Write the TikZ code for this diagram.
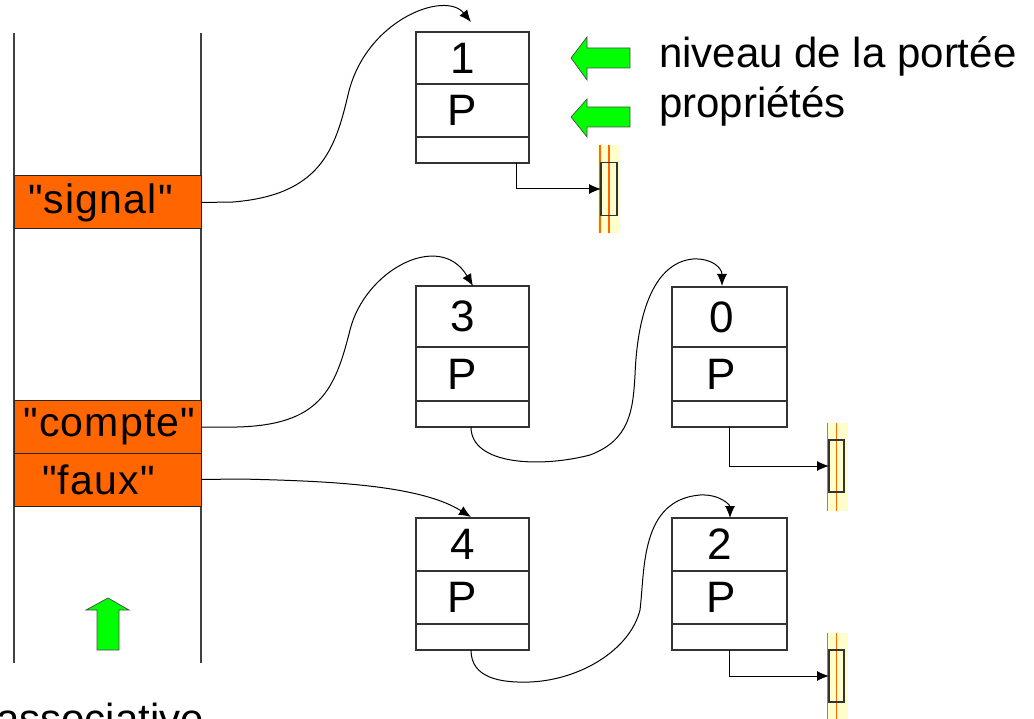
\documentclass[tikz,border=0pt]{standalone}
\usepackage{fontspec}
\setmainfont{Liberation Sans}
\newfontfamily\keyfont{Liberation Sans}[Ligatures=TeXOff,LetterSpace=3]
\usetikzlibrary{arrows.meta,calc}
\definecolor{orng}{HTML}{FF6600}
\definecolor{grn}{HTML}{00FF00}
\definecolor{pale}{HTML}{FFFFCC}
\definecolor{edge}{HTML}{333333}
\begin{document}
\begin{tikzpicture}[x=1pt,y=-1pt,
  row/.style={draw=edge,line width=1.1pt,rectangle,inner sep=0pt,outer sep=0pt,anchor=north west,minimum width=113pt},
  cell/.style={font=\fontsize{44}{50}\selectfont,inner sep=0pt,xshift=-10pt},
  keybox/.style={draw=black!85,fill=orng,line width=1pt,rectangle,inner sep=0pt,outer sep=0pt,anchor=north west,minimum width=187pt,minimum height=53pt},
  keytxt/.style={font=\keyfont\fontsize{41}{48}\selectfont,inner sep=0pt},
  stack/.style={draw=black!75,line width=1.5pt},
  band/.style={fill=pale,draw=none,rectangle,inner sep=0pt,outer sep=0pt,minimum width=21pt,minimum height=88pt},
  elem/.style={draw=edge,line width=1.1pt,rectangle,inner sep=0pt,outer sep=0pt,minimum width=16pt,minimum height=53pt},
  oline/.style={draw=orng,line width=1.1pt},
  ptr/.style={draw=black,line width=1pt,-{Latex[length=12pt,width=10pt]}},
  link/.style={draw=black,line width=1pt,-{Latex[length=12pt,width=10pt]}},
  garrow/.style={fill=grn,draw=black!70,line width=0.7pt,line join=miter},
  lbl/.style={font=\fontsize{42}{50}\selectfont,inner sep=0pt,anchor=base west}
]
\useasboundingbox (0,0) rectangle (1034,719);
\clip (0,0) rectangle (1034,719);

% stack
\draw[stack] (14,33) -- (14,663);
\draw[stack] (201,33) -- (201,663);
\node[keybox,label={[keytxt,xshift=-7pt]center:"signal"}] (sig) at (14,176) {};
\node[keybox,minimum height=52pt,label={[keytxt,xshift=2pt]center:"compte"}] (cpt) at (14,401) {};
\node[keybox,label={[keytxt,xshift=-9pt]center:"faux"}] (fx) at (14,453) {};

% up arrow
\draw[garrow] (108,598) -- (129,610) -- (119,610) -- (119,650) -- (97,650) -- (97,610) -- (86,610) -- cycle;

% box 1
\node[row,minimum height=52pt,label={[cell]center:1}] (b1a) at (416,32) {};
\node[row,minimum height=53pt,label={[cell]center:P}] (b1b) at (b1a.south west) {};
\node[row,minimum height=26pt] (b1c) at (b1b.south west) {};

% box 3
\node[row,minimum height=61pt,label={[cell]center:3}] (b3a) at (416,286) {};
\node[row,minimum height=54pt,label={[cell]center:P}] (b3b) at (b3a.south west) {};
\node[row,minimum height=26pt] (b3c) at (b3b.south west) {};

% box 0
\node[row,minimum width=115pt,minimum height=60pt,label={[cell,xshift=2pt]center:0}] (b0a) at (672,287) {};
\node[row,minimum width=115pt,minimum height=54pt,label={[cell,xshift=2pt]center:P}] (b0b) at (b0a.south west) {};
\node[row,minimum width=115pt,minimum height=26pt] (b0c) at (b0b.south west) {};
\draw[edge,line width=2.4pt] (b0a.north west) -- (b0c.south west);

% box 4
\node[row,minimum height=53pt,label={[cell]center:4}] (b4a) at (416,518) {};
\node[row,minimum height=53pt,label={[cell]center:P}] (b4b) at (b4a.south west) {};
\node[row,minimum height=26pt] (b4c) at (b4b.south west) {};

% box 2
\node[row,minimum width=115pt,minimum height=53pt,label={[cell]center:2}] (b2a) at (672,518) {};
\node[row,minimum width=115pt,minimum height=53pt,label={[cell,xshift=2pt]center:P}] (b2b) at (b2a.south west) {};
\node[row,minimum width=115pt,minimum height=26pt] (b2c) at (b2b.south west) {};
\draw[edge,line width=2.4pt] (b2a.north west) -- (b2c.south west);

% end elements
\node[band] (y1) at (608.5,189.5) {};
\draw[oline] ($(y1.north west)+(2,0)$) -- ($(y1.south west)+(2,0)$);
\draw[oline] ($(y1.north west)+(11,0)$) -- ($(y1.south west)+(11,0)$);
\node[elem] (r1) at (609,189) {};

\node[band] (y0) at (837,466.5) {};
\draw[oline] ($(y0.north west)+(1,0)$) -- ($(y0.south west)+(1,0)$);
\draw[oline] ($(y0.north west)+(10,0)$) -- ($(y0.south west)+(10,0)$);
\node[elem,minimum width=15pt,minimum height=52pt] (r0) at (836.5,466) {};

\node[band] (y2) at (837,676.5) {};
\draw[oline] ($(y2.north west)+(1,0)$) -- ($(y2.south west)+(1,0)$);
\draw[oline] ($(y2.north west)+(10,0)$) -- ($(y2.south west)+(10,0)$);
\node[elem,minimum width=15pt,minimum height=52pt] (r2) at (836.5,676) {};

% pointers to end elements
\draw[ptr] ($(b1c.south west)+(100,0)$) |- (r1.west);
\draw[ptr] ($(b0c.south west)+(57,0)$) |- (r0.west);
\draw[ptr] ($(b2c.south west)+(57,0)$) |- (r2.west);

% green left arrows
\draw[garrow] (571,58) -- (587,37) -- (587,48) -- (630,48) -- (630,68) -- (587,68) -- (587,80) -- cycle;
\draw[garrow] (571,117) -- (587,99) -- (587,107) -- (630,107) -- (630,127) -- (587,127) -- (587,137) -- cycle;

% labels
\node[lbl] (t1) at (659,68) {niveau de la portée};
\node[lbl] (t2) at (659,118) {propriétés};
\node[lbl] (t3) at (-4,733) {associative};

% curved links
\coordinate (a1) at (471,22);
\coordinate (a3) at (473,286);
\coordinate (a4) at (471,517);
\coordinate (a0) at (722,286);
\coordinate (a2) at (730,518);
\draw[link] (sig.east) -- (233,202) .. controls (320,195) and (335,150) .. (348,95) .. controls (365,20) and (445,-10) .. (a1);
\draw[link] (cpt.east) -- (237,427) .. controls (320,425) and (335,390) .. (350,330) .. controls (365,270) and (440,230) .. (a3);
\draw[link] (fx.east) -- (240,479) .. controls (330,481) and (420,485) .. (a4);
\draw[link] ($(b3c.south west)+(55,0)$) .. controls (471,465) and (540,468) .. (590,455) .. controls (630,440) and (633,410) .. (635,375) .. controls (638,300) and (660,262) .. (693,259) .. controls (712,258) and (722,268) .. (a0);
\draw[link] ($(b4c.south west)+(55,0)$) .. controls (471,678) and (500,683) .. (530,682) .. controls (580,680) and (630,650) .. (640,610) .. controls (645,570) and (640,500) .. (700,495) .. controls (720,494) and (730,505) .. (a2);
\end{tikzpicture}
\end{document}
